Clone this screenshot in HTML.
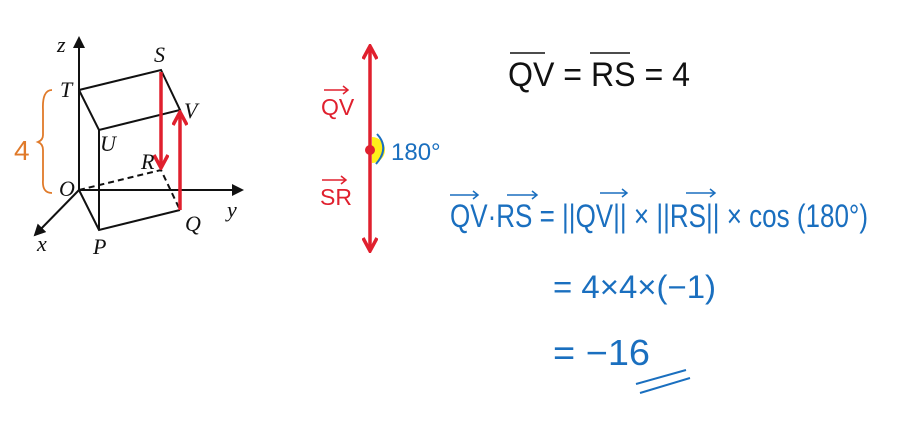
<!DOCTYPE html>
<html><head><meta charset="utf-8"><style>
body{margin:0;background:#fff;width:900px;height:444px;overflow:hidden}
svg{display:block}
.it{font-family:"Liberation Serif",serif;font-style:italic;font-size:22px;fill:#111}
.hw{font-family:"Liberation Sans",sans-serif}
</style></head><body>
<svg width="900" height="444" viewBox="0 0 900 444">
<defs>
<marker id="ak" markerWidth="12" markerHeight="12" refX="10" refY="6" orient="auto" markerUnits="userSpaceOnUse"><path d="M0,0 L12,6 L0,12 Z" fill="#111"/></marker>
<marker id="ar" markerWidth="16" markerHeight="16" refX="14" refY="8" orient="auto" markerUnits="userSpaceOnUse"><path d="M1,1 L14,8 L1,15" fill="none" stroke="#e0202e" stroke-width="3.5"/></marker>
</defs>
<g stroke="#111" stroke-width="2" fill="none">
<line x1="79" y1="190" x2="79" y2="38" marker-end="url(#ak)"/>
<line x1="79" y1="190" x2="242" y2="190" marker-end="url(#ak)"/>
<line x1="79" y1="190" x2="35" y2="235" marker-end="url(#ak)"/>
<polyline points="79,90 161,70 180,110 99,130 79,90"/>
<line x1="99" y1="130" x2="99" y2="230"/>
<polyline points="79,190 99,230 180,210"/>
<line x1="180" y1="110" x2="180" y2="210"/>
<polyline points="79,190 161,170 180,210" stroke-dasharray="6,4"/>
<line x1="99" y1="190" x2="180" y2="190" stroke-dasharray="2,2" stroke-width="1.2"/>
</g>
<line x1="161" y1="72" x2="161" y2="168" stroke="#e0202e" stroke-width="3.5" marker-end="url(#ar)"/>
<line x1="180" y1="210" x2="180" y2="112" stroke="#e0202e" stroke-width="3.5" marker-end="url(#ar)"/>
<text class="it" x="57" y="52">z</text>
<text class="it" x="60" y="97">T</text>
<text class="it" x="154" y="62">S</text>
<text class="it" x="184" y="118">V</text>
<text class="it" x="100" y="151">U</text>
<text class="it" x="141" y="169">R</text>
<text class="it" x="59" y="196">O</text>
<text class="it" x="227" y="217">y</text>
<text class="it" x="185" y="231">Q</text>
<text class="it" x="93" y="254">P</text>
<text class="it" x="37" y="251">x</text>
<path d="M52,90 Q42,90 43,110 L43,135 Q43,140 38,142 Q43,144 43,150 L43,180 Q42,193 52,193" fill="none" stroke="#e07a2a" stroke-width="1.8"/>
<text class="hw" x="14" y="160" font-size="28" fill="#e07a2a">4</text>
<line x1="370" y1="150" x2="370" y2="46" stroke="#e0202e" stroke-width="3.5" marker-end="url(#ar)"/>
<line x1="370" y1="150" x2="370" y2="251" stroke="#e0202e" stroke-width="3.5" marker-end="url(#ar)"/>
<path d="M372,137 A13,13 0 0 1 372,163 Z" fill="#ffef1a"/>
<circle cx="370" cy="150" r="5" fill="#e0202e"/>
<path d="M377,134 Q390,148 376,164" fill="none" stroke="#1a6fbf" stroke-width="2"/>
<text class="hw" x="391" y="160" font-size="24" fill="#1a6fbf">180°</text>
<g fill="#e0202e">
<text class="hw" x="321" y="115" font-size="23">QV</text>
<path d="M324,90 L348,90 M343,86 L348,90 L343,94" stroke="#e0202e" stroke-width="1.5" fill="none"/>
<text class="hw" x="320" y="205" font-size="23">SR</text>
<path d="M322,180 L346,180 M341,176 L346,180 L341,184" stroke="#e0202e" stroke-width="1.5" fill="none"/>
</g>
<g>
<text class="hw" x="508" y="86" font-size="34" fill="#111" textLength="182" lengthAdjust="spacingAndGlyphs">QV = RS = 4</text>
<line x1="510" y1="53" x2="545" y2="53" stroke="#111" stroke-width="1.5"/>
<line x1="590" y1="53" x2="630" y2="53" stroke="#111" stroke-width="1.5"/>
</g>
<g fill="#1a6fbf" font-family="Liberation Sans, sans-serif">
<text x="450" y="227" font-size="32" textLength="418" lengthAdjust="spacingAndGlyphs">QV·RS = ||QV|| × ||RS|| × cos (180°)</text>
<path d="M450,195 L478,195 M473,191 L478,195 L473,199" stroke="#1a6fbf" stroke-width="1.5" fill="none"/>
<path d="M507,195 L537,195 M532,191 L537,195 L532,199" stroke="#1a6fbf" stroke-width="1.5" fill="none"/>
<path d="M600,193 L627,193 M622,189 L627,193 L622,197" stroke="#1a6fbf" stroke-width="1.5" fill="none"/>
<path d="M686,193 L715,193 M710,189 L715,193 L710,197" stroke="#1a6fbf" stroke-width="1.5" fill="none"/>
<text x="553" y="298" font-size="32" textLength="163" lengthAdjust="spacingAndGlyphs">= 4×4×(−1)</text>
<text x="553" y="365" font-size="36" textLength="97" lengthAdjust="spacingAndGlyphs">= −16</text>
<path d="M636,384 L686,370 M640,393 L690,378" stroke="#1a6fbf" stroke-width="2" fill="none"/>
</g>
</svg>
</body></html>
